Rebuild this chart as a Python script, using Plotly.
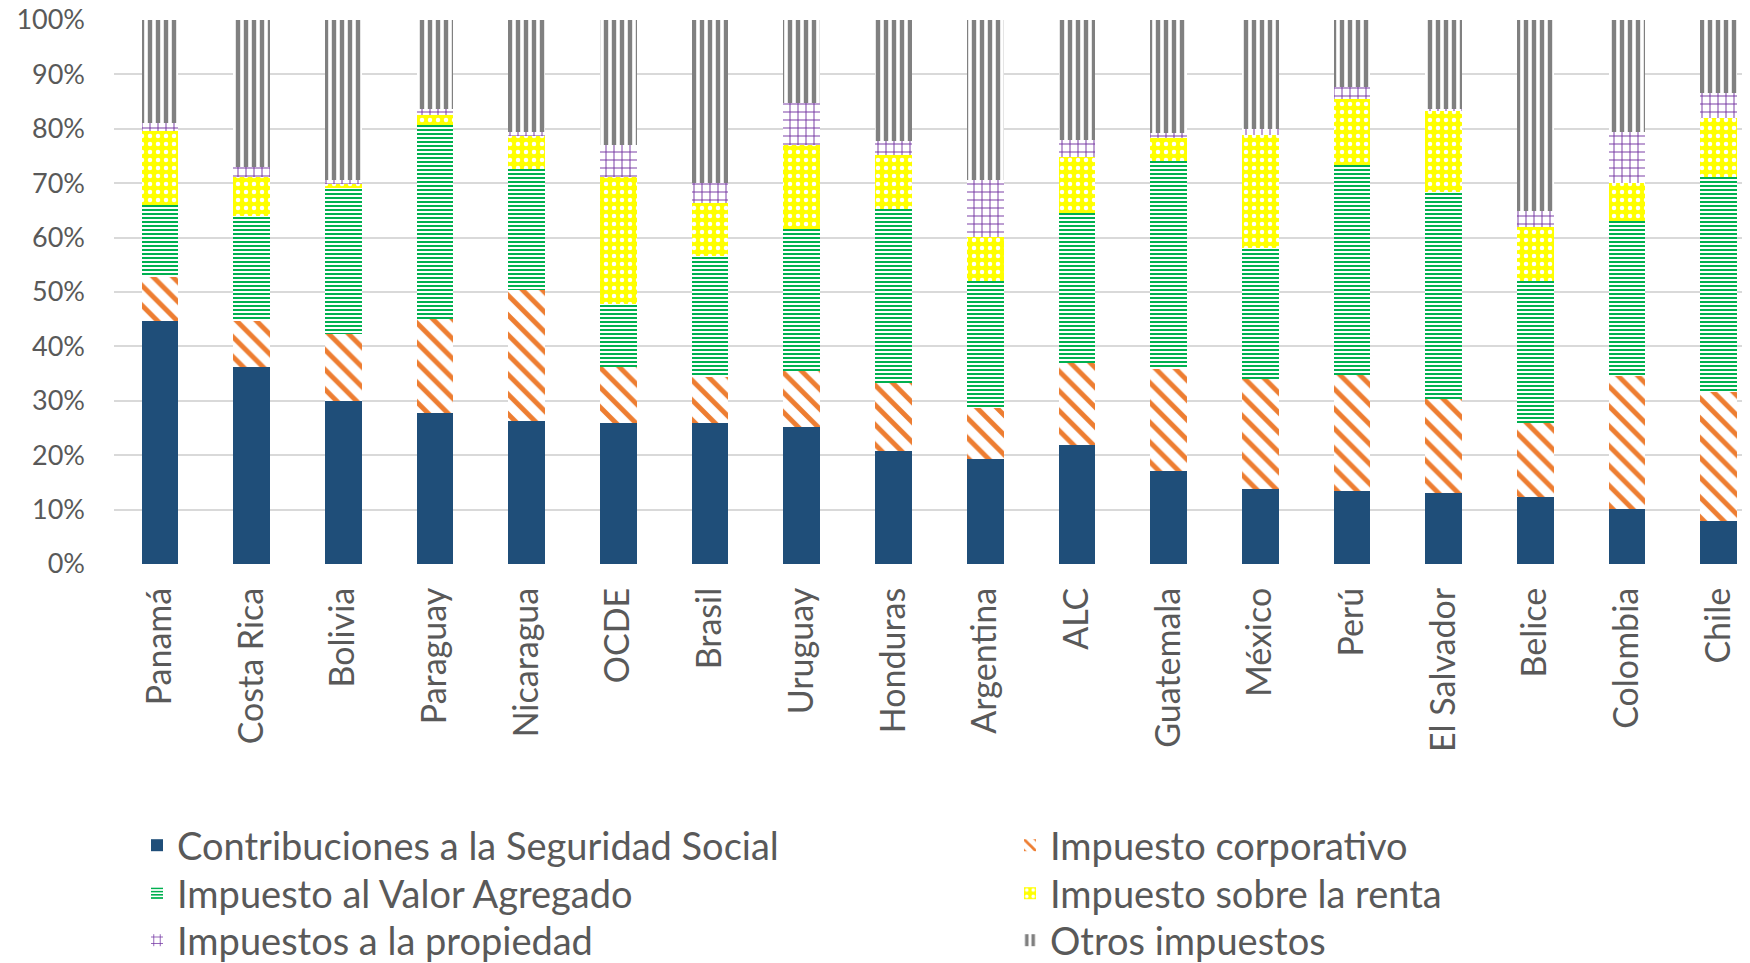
import plotly.graph_objects as go

countries = ["Panamá", "Costa Rica", "Bolivia", "Paraguay", "Nicaragua", "OCDE", "Brasil",
             "Uruguay", "Honduras", "Argentina", "ALC", "Guatemala", "México", "Perú",
             "El Salvador", "Belice", "Colombia", "Chile"]

seguridad_social = [44.7, 36.2, 30.0, 27.8, 26.3, 25.9, 25.9, 25.2, 20.8, 19.3, 21.9, 17.1, 13.8, 13.4, 13.1, 12.3, 10.1, 7.9]
corporativo      = [8.1, 8.5, 12.2, 17.2, 24.0, 10.4, 8.5, 10.3, 12.5, 9.3, 15.1, 18.8, 20.3, 21.4, 17.3, 13.7, 24.5, 23.8]
iva              = [13.2, 19.3, 26.9, 35.7, 22.3, 11.5, 22.2, 26.0, 32.0, 23.5, 27.5, 38.2, 23.9, 38.6, 37.9, 26.0, 28.5, 39.5]
renta            = [13.6, 7.2, 0.7, 1.8, 6.0, 23.4, 9.8, 15.6, 9.9, 8.1, 10.4, 4.2, 20.9, 12.1, 15.0, 10.0, 7.0, 10.7]
propiedad        = [1.4, 1.8, 0.8, 1.1, 0.8, 5.8, 3.6, 7.7, 2.6, 10.4, 3.1, 0.9, 1.1, 2.2, 0.4, 2.8, 9.3, 4.6]
otros            = [19.0, 27.0, 29.4, 16.4, 20.6, 23.0, 30.0, 15.2, 22.2, 29.4, 22.0, 20.8, 20.0, 12.3, 16.3, 35.2, 20.6, 13.5]

y_ticks = [0, 10, 20, 30, 40, 50, 60, 70, 80, 90, 100]

# figure size (page adds an 8px body margin around the plot div)
W, H = 1742, 955

# (name, values, marker style, legend id, legend column, legend row)
series = [
    ("Contribuciones a la Seguridad Social", seguridad_social,
     dict(color="#1F4E79"), "legend", 0, 0),
    ("Impuesto corporativo", corporativo,
     dict(color="white", pattern=dict(shape="\\", fgcolor="#ED7D31", bgcolor="white", fgopacity=1,
                                      size=14, solidity=0.35, fillmode="overlay")), "legend2", 1, 0),
    ("Impuesto al Valor Agregado", iva,
     dict(color="white", pattern=dict(shape="-", fgcolor="#00B050", bgcolor="white", fgopacity=1,
                                      size=4, solidity=0.5, fillmode="overlay")), "legend3", 0, 1),
    ("Impuesto sobre la renta", renta,
     dict(color="white", pattern=dict(shape=".", fgcolor="white", bgcolor="#FFFF00", fgopacity=1,
                                      size=8, solidity=0.25, fillmode="overlay")), "legend4", 1, 1),
    ("Impuestos a la propiedad", propiedad,
     dict(color="white", pattern=dict(shape="+", fgcolor="#7030A0", bgcolor="white", fgopacity=1,
                                      size=8, solidity=0.22, fillmode="overlay")), "legend5", 0, 2),
    ("Otros impuestos", otros,
     dict(color="white", pattern=dict(shape="|", fgcolor="#808080", bgcolor="white", fgopacity=1,
                                      size=8, solidity=0.55, fillmode="overlay")), "legend6", 1, 2),
]

font_family = "Lato"
grey_text = "#595959"

legend_cols_x = [129, 1002]        # px from left of figure
legend_rows_top = [806, 854, 901]  # px from top of figure

fig = go.Figure()
legends = {}
for name, vals, marker, leg, col, row in series:
    marker = dict(marker)
    marker["line"] = dict(width=0)
    fig.add_trace(go.Bar(x=countries, y=vals, name=name, marker=marker, width=0.4, legend=leg))
    legends[leg] = dict(
        orientation="v",
        xref="container", yref="container",
        x=legend_cols_x[col] / W, y=1 - legend_rows_top[row] / H,
        xanchor="left", yanchor="top",
        font=dict(family=font_family, size=38, color=grey_text),
        bgcolor="rgba(0,0,0,0)",
    )

fig.update_layout(
    width=W, height=H,
    barmode="stack",
    paper_bgcolor="white", plot_bgcolor="white",
    margin=dict(l=106, r=0, t=12, b=399, autoexpand=False),
    font=dict(family=font_family, color=grey_text),
    showlegend=True,
    xaxis=dict(
        type="category",
        range=[-0.5, 17.34],
        tickangle=-90,
        tickfont=dict(family=font_family, size=34, color=grey_text),
        showgrid=False, showline=False, ticks="",
        ticklabelstandoff=16,
        ticklabeloverflow="allow",
        automargin=False,
    ),
    yaxis=dict(
        range=[0, 100],
        tickvals=y_ticks,
        ticktext=[f"{v}%" for v in y_ticks],
        tickfont=dict(family=font_family, size=27, color=grey_text),
        showgrid=True, gridcolor="#D9D9D9", gridwidth=2,
        zeroline=False, showline=False, ticks="",
        ticklabelstandoff=28,
        ticklabeloverflow="allow",
        automargin=False,
    ),
    **legends,
)

fig.write_html("out.html")
